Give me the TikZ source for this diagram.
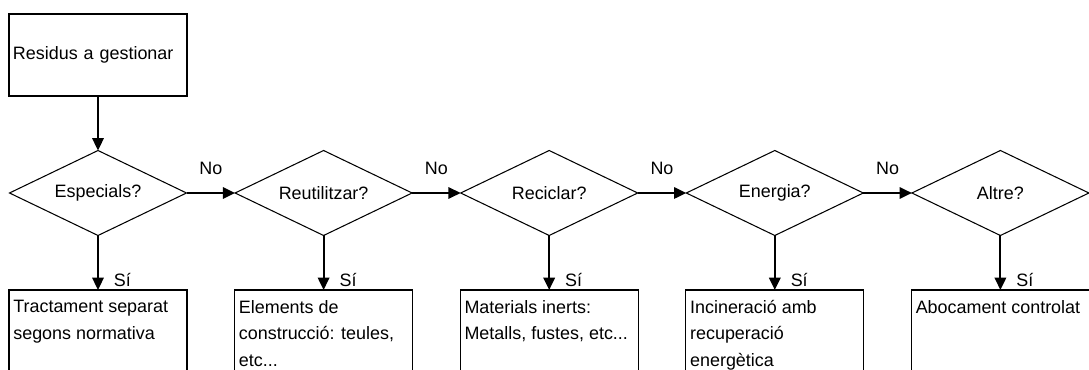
\documentclass[tikz,border=0pt]{standalone}
\usepackage{fontspec}
\setmainfont{Liberation Sans}
\usetikzlibrary{shapes.geometric,arrows.meta}

\begin{document}
\begin{tikzpicture}[
  font=\fontsize{10.2}{15}\selectfont,
  caixa/.style={draw,line width=0.6pt,inner sep=0pt,outer sep=0pt},
  pregunta/.style={diamond,draw,line width=0.6pt,aspect=2.07,minimum width=3.54cm,minimum height=1.7cm,inner sep=0pt,outer sep=0pt},
  fletxa/.style={-{Triangle[length=7pt,width=6.5pt]},line width=1.1pt},
  etiq/.style={inner sep=0pt}
]
\clip (0,0) rectangle (21.78,-7.4);
\node[caixa,text width=3.4cm,inner xsep=0.08cm,minimum height=1.64cm,align=left] (inici) at (1.96,-1.1) {Residus a gestionar};
\foreach \i/\q/\r in {1/Especials?/{Tractament separat\\segons normativa},
  2/Reutilitzar?/{Elements de\\construcció: teules,\\etc...},
  3/Reciclar?/{Materials inerts:\\Metalls, fustes, etc...},
  4/Energia?/{Incineració amb\\recuperació\\energètica},
  5/Altre?/{Abocament controlat}}{
\node[pregunta] (p\i) at ({1.96+4.512*(\i-1)},-3.86) {\q};
\node[caixa,anchor=north,minimum width=3.56cm,minimum height=2.2cm] (r\i) at ({1.96+4.512*(\i-1)},-5.8) {};
\node[anchor=north west,align=left,inner xsep=0.08cm,inner ysep=0.2cm] (t\i) at (r\i.north west) {\r};
\draw[fletxa] (p\i.south) -- node[pos=0.94,anchor=base west,xshift=0.3cm,etiq] {Sí} (r\i.north);
}
\foreach \i/\j in {1/2,2/3,3/4,4/5}{
\draw[fletxa] (p\i.east) -- node[midway,anchor=base,yshift=0.37cm,etiq] {No} (p\j.west);
}
\draw[fletxa] (inici.south) -- (p1.north);
\end{tikzpicture}
\end{document}
